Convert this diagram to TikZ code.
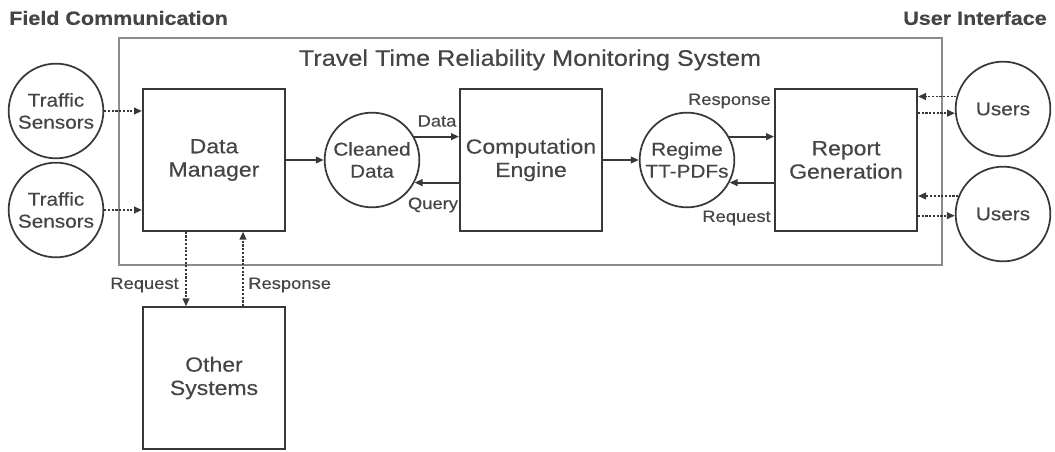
\documentclass[tikz,border=0pt]{standalone}
\usepackage{fontspec}
\setmainfont{Liberation Sans}[FakeStretch=1.12,FakeBold=0.35]
\usetikzlibrary{arrows.meta,calc}
\definecolor{txt}{HTML}{454545}
\definecolor{ln}{HTML}{383838}
\definecolor{frame}{HTML}{8C8C8C}
\begin{document}
\begin{tikzpicture}[x=0.75pt,y=-0.75pt,
  boxnode/.style={draw=ln,line width=1.5pt,minimum width=106.5pt,minimum height=106pt,inner sep=0pt,align=center,text=txt,font=\fontsize{15.4}{17.5}\selectfont},
  circnode/.style={draw=ln,line width=1.3pt,circle,minimum size=71pt,inner sep=0pt,align=center,text=txt,font=\fontsize{13.9}{16.5}\selectfont},
  lbl/.style={text=txt,font=\fontsize{12.3}{14}\selectfont,inner sep=0pt},
  hdr/.style={text=txt,font=\bfseries\fontsize{14.4}{16}\selectfont,inner sep=0pt},
  solidarr/.style={draw=ln,line width=1.4pt,-{Triangle[length=6pt,width=5pt]}},
  dotarr/.style={draw=ln,line width=1.4pt,dash pattern=on 1.6pt off 1.2pt,-{Triangle[length=6pt,width=5pt]}}
]
\useasboundingbox (0,0) rectangle (1055,452);
% frame
\draw[frame,line width=1.2pt] (119,38) rectangle (942,265);
\node[text=txt,font=\fontsize{16.9}{19}\selectfont,inner sep=0pt] (title) at (530,60) {Travel Time Reliability Monitoring System};
\node[hdr,anchor=west] (fc) at (9,18) {Field Communication};
\node[hdr,anchor=east] (ui) at (1047,18) {User Interface};
% nodes
\node[circnode] (ts1) at (56,111) {Traffic\\Sensors};
\node[circnode] (ts2) at (56,210) {Traffic\\Sensors};
\node[boxnode] (dm) at (214,160) {Data\\Manager};
\node[circnode] (cd) at (372,160) {Cleaned\\Data};
\node[boxnode] (ce) at (531,160) {Computation\\Engine};
\node[circnode] (rt) at (687,160) {Regime\\TT-PDFs};
\node[boxnode] (rg) at (846,160) {Report\\Generation};
\node[circnode] (us1) at (1003,109) {Users};
\node[circnode] (us2) at (1003,214) {Users};
\node[boxnode] (os) at (214,378) {Other\\Systems};
% arrows
\draw[dotarr] (ts1.east) -- (ts1.east -| dm.west);
\draw[dotarr] (ts2.east) -- (ts2.east -| dm.west);
\draw[solidarr] (dm.east |- cd.west) -- (cd.west);
\draw[solidarr] (cd.29) -- (ce.west |- cd.29);
\draw[solidarr] (ce.west |- cd.-28) -- (cd.-28);
\draw[solidarr] (ce.east |- rt.west) -- (rt.west);
\draw[solidarr] (rt.29) -- (rg.west |- rt.29);
\draw[solidarr] (rg.west |- rt.-28) -- (rt.-28);
\node[lbl] (ldata) at (437,121) {Data};
\node[lbl] (lquery) at (433,205) {Query};
\node[lbl,anchor=east] (lresp) at (771,101) {Response};
\node[lbl,anchor=east] (lreq) at (771,218) {Request};
% users
\draw[dotarr] (us1.165) -- (rg.east |- us1.165);
\draw[dotarr] (rg.east |- us1.185) -- (us1.185);
\draw[dotarr] (us2.158) -- (rg.east |- us2.158);
\draw[dotarr] (rg.east |- us2.182) -- (us2.182);
% other systems
\draw[dotarr] ($(dm.south)+(-28,0)$) -- ($(os.north)+(-28,0)$);
\draw[dotarr] ($(os.north)+(29,0)$) -- ($(dm.south)+(29,0)$);
\node[lbl,anchor=east] (lreq2) at (179,285) {Request};
\node[lbl,anchor=west] (lresp2) at (248,285) {Response};
\end{tikzpicture}
\end{document}
